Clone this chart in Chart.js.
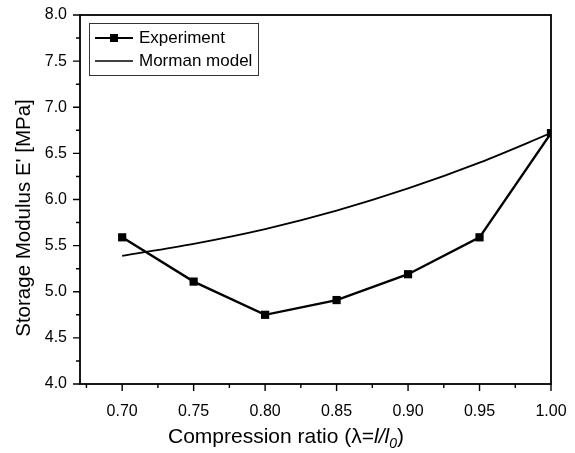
<!DOCTYPE html>
<html>
<head>
<meta charset="utf-8">
<script src="https://cdn.jsdelivr.net/npm/chart.js@4/dist/chart.umd.min.js"></script>
<style>
  html, body { margin: 0; padding: 0; background: #fff; }
  #wrap { width: 575px; height: 453px; position: relative; }
</style>
</head>
<body>
<div id="wrap"><canvas id="chart"></canvas></div>
<script>
// data
var ratios = [0.70, 0.75, 0.80, 0.85, 0.90, 0.95, 1.00];
var experiment = [5.59, 5.11, 4.75, 4.91, 5.19, 5.59, 6.72];
var mormanModel = [5.39, 5.52, 5.68, 5.88, 6.12, 6.40, 6.72];
var seriesNames = ['Experiment', 'Morman model'];
var xTicks = [0.70, 0.75, 0.80, 0.85, 0.90, 0.95, 1.00];
var yTicks = [4.0, 4.5, 5.0, 5.5, 6.0, 6.5, 7.0, 7.5, 8.0];

var FONT = '"Liberation Sans", Arial, sans-serif';

function pairs(xs, ys) {
  return xs.map(function (x, i) { return { x: x, y: ys[i] }; });
}

// frame, tick marks, axis titles and legend in the Origin style
var framePlugin = {
  id: 'frame',
  afterDraw: function (chart) {
    var ctx = chart.ctx;
    var a = chart.chartArea;
    var xs = chart.scales.x, ys = chart.scales.y;
    ctx.save();
    ctx.strokeStyle = '#000';
    ctx.lineWidth = 1.8;
    ctx.strokeRect(a.left, a.top, a.right - a.left, a.bottom - a.top);

    ctx.lineWidth = 1.4;
    ctx.beginPath();
    xTicks.forEach(function (v) {
      var px = xs.getPixelForValue(v);
      ctx.moveTo(px, a.bottom); ctx.lineTo(px, a.bottom + 7);
      var mx = xs.getPixelForValue(v - 0.025);
      if (mx >= a.left) { ctx.moveTo(mx, a.bottom); ctx.lineTo(mx, a.bottom + 4); }
    });
    yTicks.forEach(function (v) {
      var py = ys.getPixelForValue(v);
      ctx.moveTo(a.left, py); ctx.lineTo(a.left - 7, py);
      if (v < 8) {
        var my = ys.getPixelForValue(v + 0.25);
        ctx.moveTo(a.left, my); ctx.lineTo(a.left - 4, my);
      }
    });
    ctx.stroke();

    // x title with italic l/l0
    ctx.fillStyle = '#000';
    ctx.textBaseline = 'alphabetic';
    ctx.textAlign = 'left';
    var y0 = 443;
    var cx = 168;
    var parts = [
      ['Compression ratio (\u03bb=', '21px ' + FONT],
      ['l/l', 'italic 21px ' + FONT]
    ];
    parts.forEach(function (p) {
      ctx.font = p[1];
      ctx.fillText(p[0], cx, y0); cx += ctx.measureText(p[0]).width;
    });
    ctx.font = 'italic 14px ' + FONT;
    ctx.fillText('0', cx, y0 + 5); cx += ctx.measureText('0').width;
    ctx.font = '21px ' + FONT;
    ctx.fillText(')', cx, y0);

    // y title
    ctx.save();
    ctx.translate(24, 218);
    ctx.rotate(-Math.PI / 2);
    ctx.font = '20.5px ' + FONT;
    ctx.textAlign = 'center';
    ctx.textBaseline = 'middle';
    ctx.fillText("Storage Modulus E' [MPa]", 0, 0);
    ctx.restore();

    // legend
    ctx.lineWidth = 1;
    ctx.strokeStyle = '#333';
    ctx.strokeRect(89.5, 23.5, 169, 52);
    ctx.font = '17px ' + FONT;
    ctx.textAlign = 'left';
    ctx.textBaseline = 'middle';
    ctx.strokeStyle = '#000';
    ctx.lineWidth = 2.2;
    ctx.beginPath(); ctx.moveTo(95, 38); ctx.lineTo(133, 38); ctx.stroke();
    ctx.fillRect(110, 34, 8, 8);
    ctx.fillText(seriesNames[0], 139, 38);
    ctx.lineWidth = 1.4;
    ctx.beginPath(); ctx.moveTo(95, 61); ctx.lineTo(133, 61); ctx.stroke();
    ctx.fillText(seriesNames[1], 139, 61);
    ctx.restore();
  }
};

new Chart(document.getElementById('chart'), {
  type: 'line',
  data: {
    datasets: [
      {
        label: seriesNames[0],
        data: pairs(ratios, experiment),
        borderColor: '#000',
        backgroundColor: '#000',
        borderWidth: 2.4,
        pointStyle: 'rect',
        pointRadius: 5.8,
        pointBorderWidth: 0,
        tension: 0
      },
      {
        label: seriesNames[1],
        data: pairs(ratios, mormanModel),
        borderColor: '#000',
        borderWidth: 1.8,
        pointRadius: 0,
        cubicInterpolationMode: 'monotone'
      }
    ]
  },
  options: {
    responsive: true,
    maintainAspectRatio: false,
    animation: false,
    devicePixelRatio: 1,
    layout: { padding: { left: 0, right: 24, top: 15, bottom: 0 } },
    plugins: { legend: { display: false }, tooltip: { enabled: false } },
    scales: {
      x: {
        type: 'linear',
        min: 0.6705,
        max: 1.0,
        grid: { display: false },
        border: { display: false },
        afterBuildTicks: function (s) { s.ticks = xTicks.map(function (v) { return { value: v }; }); },
        afterFit: function (s) { s.height = 69; s.paddingLeft = 0; s.paddingRight = 0; },
        ticks: {
          autoSkip: false,
          maxRotation: 0,
          padding: 10,
          color: '#000',
          font: { family: FONT, size: 16 },
          callback: function (v) { return Number(v).toFixed(2); }
        }
      },
      y: {
        min: 4,
        max: 8,
        grid: { display: false },
        border: { display: false },
        afterBuildTicks: function (s) { s.ticks = yTicks.map(function (v) { return { value: v }; }); },
        afterFit: function (s) { s.width = 80; s.paddingTop = 0; s.paddingBottom = 0; },
        ticks: {
          autoSkip: false,
          padding: 5,
          color: '#000',
          font: { family: FONT, size: 16 },
          callback: function (v) { return Number(v).toFixed(1); }
        }
      }
    }
  },
  plugins: [framePlugin]
});
</script>
</body>
</html>
